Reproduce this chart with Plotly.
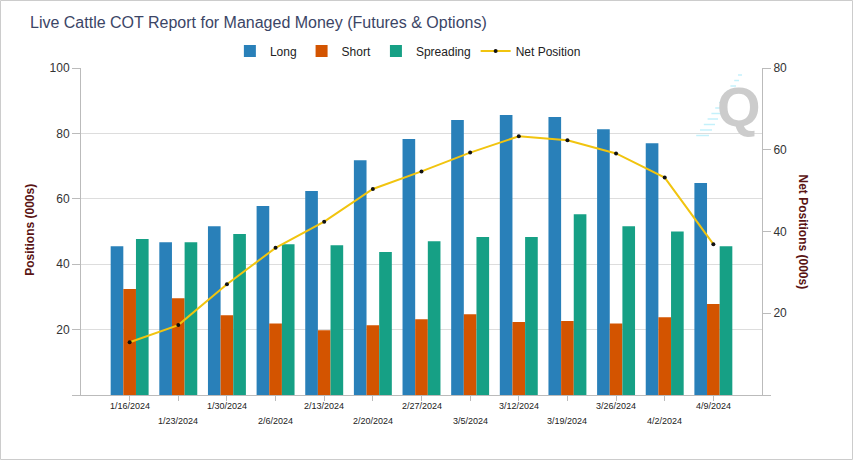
import plotly.graph_objects as go

dates = ["1/16/2024", "1/23/2024", "1/30/2024", "2/6/2024", "2/13/2024", "2/20/2024",
         "2/27/2024", "3/5/2024", "3/12/2024", "3/19/2024", "3/26/2024", "4/2/2024", "4/9/2024"]
long_vals = [45.5, 46.7, 51.6, 57.8, 62.4, 71.8, 78.3, 84.1, 85.6, 85.0, 81.3, 77.0, 64.8]
short_vals = [32.4, 29.6, 24.4, 21.9, 19.8, 21.3, 23.2, 24.7, 22.3, 22.6, 21.9, 23.8, 27.8]
spread_vals = [47.7, 46.7, 49.2, 46.1, 45.8, 43.7, 47.0, 48.3, 48.3, 55.3, 51.6, 50.0, 45.5]
net_vals = [12.9, 17.1, 27.1, 36.0, 42.4, 50.4, 54.7, 59.3, 63.3, 62.3, 59.1, 53.2, 36.9]
left_ticks = [0, 20, 40, 60, 80, 100]
right_ticks = [0, 20, 40, 60, 80]

W, H = 853, 460
L, R, T, B = 81, 91, 68, 65
PW, PH = W - L - R, H - T - B
FONT = "Arial, Liberation Sans, sans-serif"

fig = go.Figure()
fig.add_trace(go.Bar(name="Long", x=dates, y=long_vals, marker_color="#2980b9", marker_line_width=0))
fig.add_trace(go.Bar(name="Short", x=dates, y=short_vals, marker_color="#d35400", marker_line_width=0))
fig.add_trace(go.Bar(name="Spreading", x=dates, y=spread_vals, marker_color="#16a085", marker_line_width=0))
fig.add_trace(go.Scatter(name="Net Position", x=dates, y=net_vals, yaxis="y2", mode="lines+markers",
                         line=dict(color="#f1c40f", width=2),
                         marker=dict(color="#111111", size=4, symbol="circle")))

annotations = []
for i, d in enumerate(dates):
    annotations.append(dict(x=d, xref="x", y=(-11 if i % 2 == 0 else -25.7) / PH, yref="paper",
                            yanchor="middle", xanchor="center", showarrow=False, text=d,
                            font=dict(family=FONT, size=9, color="#222222")))
annotations.append(dict(x=(30 - L) / PW, xref="paper", y=0.505, yref="paper", text="<b>Positions (000s)</b>",
                        textangle=-90, showarrow=False, font=dict(family=FONT, size=12, color="#5a1414"),
                        xanchor="center", yanchor="middle"))
annotations.append(dict(x=(803 - L) / PW, xref="paper", y=0.50, yref="paper", text="<b>Net Positions (000s)</b>",
                        textangle=90, showarrow=False, font=dict(family=FONT, size=12, color="#5a1414"),
                        xanchor="center", yanchor="middle"))
annotations.append(dict(x=(739 - L) / PW, xref="paper", y=(395 - 106) / PH, yref="paper", text="<b>Q</b>",
                        showarrow=False, font=dict(family=FONT, size=56, color="#cccccc"),
                        xanchor="center", yanchor="middle"))

shapes = [dict(type="rect", xref="paper", yref="paper",
               x0=(-L + 0.5) / PW, x1=1 + (R - 0.5) / PW, y0=(-B + 0.5) / PH, y1=1 + (T - 0.5) / PH,
               line=dict(color="#cccccc", width=1), layer="below")]
for i in range(12):
    yy = 75 + i * 5.5
    xr = 742 - i * 3.0
    xl = xr - (4 + i * 0.8)
    shapes.append(dict(type="line", xref="paper", yref="paper",
                       x0=(xl - L) / PW, x1=(xr - L) / PW, y0=(395 - yy) / PH, y1=(395 - yy) / PH,
                       line=dict(color="#c4f1fb", width=1.5), layer="below"))

fig.update_layout(
    width=W, height=H,
    margin=dict(l=L, r=R, t=T, b=B, autoexpand=False),
    paper_bgcolor="white", plot_bgcolor="white",
    font=dict(family=FONT, size=12, color="#333333"),
    title=dict(text="Live Cattle COT Report for Managed Money (Futures & Options)",
               x=30 / W, xanchor="left", y=1 - 22 / H, yanchor="middle",
               font=dict(family=FONT, size=16, color="#3b4566")),
    barmode="group", bargap=0.22, bargroupgap=0,
    showlegend=True,
    legend=dict(orientation="h", x=0.48, xanchor="center", y=1 + 17 / PH, yanchor="middle",
                font=dict(family=FONT, size=12, color="#222222"), bgcolor="rgba(0,0,0,0)"),
    xaxis=dict(type="category", range=[-1, len(dates)], showticklabels=False,
               ticks="outside", ticklen=5, tickcolor="#bbbbbb", showline=True, linecolor="#bbbbbb",
               linewidth=1, showgrid=False, zeroline=False, fixedrange=True),
    yaxis=dict(range=[0, 100], tickvals=left_ticks,
               ticktext=["" if v == 0 else str(v) for v in left_ticks],
               ticks="outside", ticklen=8, tickcolor="#bbbbbb", showline=True, linecolor="#bbbbbb",
               gridcolor="#dddddd", showgrid=True, zeroline=False,
               tickfont=dict(family=FONT, size=12, color="#333333")),
    yaxis2=dict(range=[0, 80], tickvals=right_ticks,
                ticktext=["" if v == 0 else str(v) for v in right_ticks],
                overlaying="y", side="right",
                ticks="outside", ticklen=8, tickcolor="#bbbbbb", showline=True, linecolor="#bbbbbb",
                showgrid=False, zeroline=False,
                tickfont=dict(family=FONT, size=12, color="#333333")),
    annotations=annotations,
    shapes=shapes,
)

fig.write_html("out.html", config={"displayModeBar": False},
               post_script="document.body.style.margin='0';document.body.style.padding='0';")
